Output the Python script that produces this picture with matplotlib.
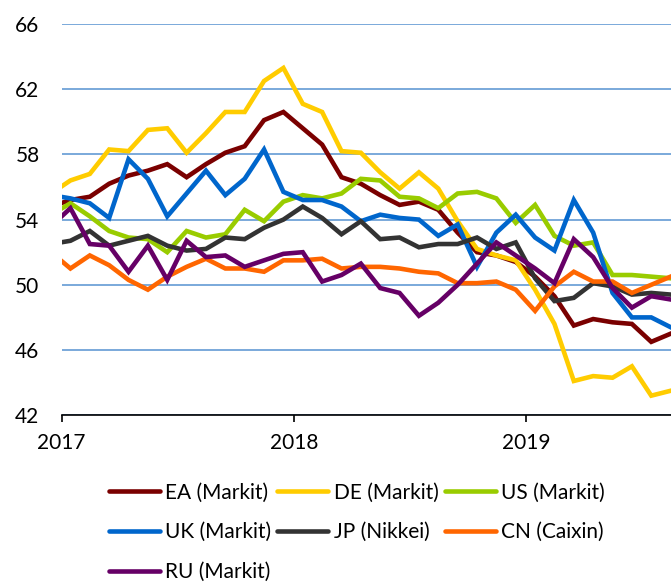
"""PMI manufacturing indices, Dec 2016 - Aug 2019."""
import numpy as np
import matplotlib
matplotlib.use("Agg")
import matplotlib.pyplot as plt

plt.rcParams["font.family"] = ["Lato", "DejaVu Sans"]

# months counted from Jan 2017 (Dec 2016 = -1)
months = np.arange(-1, 32)

ea = [54.8, 55.2, 55.4, 56.2, 56.7, 57.0, 57.4, 56.6, 57.4, 58.1, 58.5, 60.1, 60.6,
      59.6, 58.6, 56.6, 56.2, 55.5, 54.9, 55.1, 54.6, 53.2, 52.0, 51.8, 51.4,
      50.5, 49.3, 47.5, 47.9, 47.7, 47.6, 46.5, 47.0]
de = [55.6, 56.4, 56.8, 58.3, 58.2, 59.5, 59.6, 58.1, 59.3, 60.6, 60.6, 62.5, 63.3,
      61.1, 60.6, 58.2, 58.1, 56.9, 55.9, 56.9, 55.9, 53.9, 52.2, 51.8, 51.5,
      49.7, 47.6, 44.1, 44.4, 44.3, 45.0, 43.2, 43.5]
us = [54.3, 55.0, 54.2, 53.3, 52.9, 52.8, 52.0, 53.3, 52.9, 53.1, 54.6, 53.9, 55.1,
      55.5, 55.3, 55.6, 56.5, 56.4, 55.4, 55.3, 54.7, 55.6, 55.7, 55.3, 53.8,
      54.9, 53.0, 52.4, 52.6, 50.6, 50.6, 50.5, 50.4]
uk = [55.5, 55.3, 55.0, 54.1, 57.7, 56.5, 54.2, 55.6, 57.0, 55.5, 56.5, 58.3, 55.7,
      55.2, 55.2, 54.8, 53.9, 54.3, 54.1, 54.0, 53.0, 53.7, 51.1, 53.2, 54.3,
      52.9, 52.1, 55.2, 53.2, 49.5, 48.0, 48.0, 47.4]
jp = [52.5, 52.7, 53.3, 52.4, 52.7, 53.0, 52.4, 52.1, 52.2, 52.9, 52.8, 53.5, 54.0,
      54.8, 54.1, 53.1, 53.9, 52.8, 52.9, 52.3, 52.5, 52.5, 52.9, 52.2, 52.6,
      50.4, 49.0, 49.2, 50.1, 49.9, 49.4, 49.5, 49.4]
cn = [52.0, 51.0, 51.8, 51.2, 50.3, 49.7, 50.5, 51.1, 51.6, 51.0, 51.0, 50.8, 51.5,
      51.5, 51.6, 51.0, 51.1, 51.1, 51.0, 50.8, 50.7, 50.1, 50.1, 50.2, 49.7,
      48.4, 49.9, 50.8, 50.2, 50.2, 49.5, 50.0, 50.5]
ru = [53.6, 54.7, 52.5, 52.4, 50.8, 52.4, 50.3, 52.7, 51.7, 51.8, 51.1, 51.5, 51.9,
      52.0, 50.2, 50.6, 51.3, 49.8, 49.5, 48.1, 48.9, 50.0, 51.3, 52.6, 51.8,
      51.0, 50.1, 52.8, 51.7, 49.8, 48.6, 49.3, 49.1]

series = [
    ("EA (Markit)", ea, "#7a0000"),
    ("DE (Markit)", de, "#ffcc00"),
    ("US (Markit)", us, "#99cc00"),
    ("UK (Markit)", uk, "#0066cc"),
    ("JP (Nikkei)", jp, "#333333"),
    ("CN (Caixin)", cn, "#ff6600"),
    ("RU (Markit)", ru, "#660066"),
]

year_ticks = [0, 12, 24]
year_labels = ["2017", "2018", "2019"]
y_ticks = [42, 46, 50, 54, 58, 62, 66]


def main():
    fig = plt.figure(figsize=(6.71, 5.84), dpi=100)
    ax = fig.add_axes([0.092, 0.289, 0.908, 0.670])

    lines = {}
    for name, vals, color in series:
        # points sit at mid-month
        (ln,) = ax.plot(months + 0.45, vals, color=color, lw=3.3,
                        solid_joinstyle="miter", label=name, zorder=3)
        lines[name] = ln

    ax.set_xlim(0, 31.47)
    ax.set_ylim(42, 66)
    ax.set_yticks(y_ticks)
    ax.set_xticks(year_ticks)
    ax.set_xticklabels(year_labels)
    ax.yaxis.grid(True, color="#6fa3d8", lw=1.3)
    ax.set_axisbelow(True)
    for side in ["left", "right", "top"]:
        ax.spines[side].set_visible(False)
    ax.spines["bottom"].set_color("black")
    ax.spines["bottom"].set_linewidth(1.2)
    ax.tick_params(axis="y", length=0, pad=16, labelsize=15)
    ax.tick_params(axis="x", length=5, width=1.2, direction="out",
                   pad=8, labelsize=15)

    order = ["EA (Markit)", "UK (Markit)", "RU (Markit)",
             "DE (Markit)", "JP (Nikkei)", "US (Markit)", "CN (Caixin)"]
    leg = fig.legend([lines[n] for n in order], order, ncol=3,
                     loc="upper left", bbox_to_anchor=(0.162, 0.174),
                     frameon=False, fontsize=15, handlelength=2.45,
                     handletextpad=0.25, columnspacing=0.3, labelspacing=0.95,
                     borderaxespad=0, borderpad=0)
    for h in leg.legend_handles:
        h.set_solid_capstyle("round")

    fig.savefig("out.png", dpi=100)


if __name__ == "__main__":
    main()
